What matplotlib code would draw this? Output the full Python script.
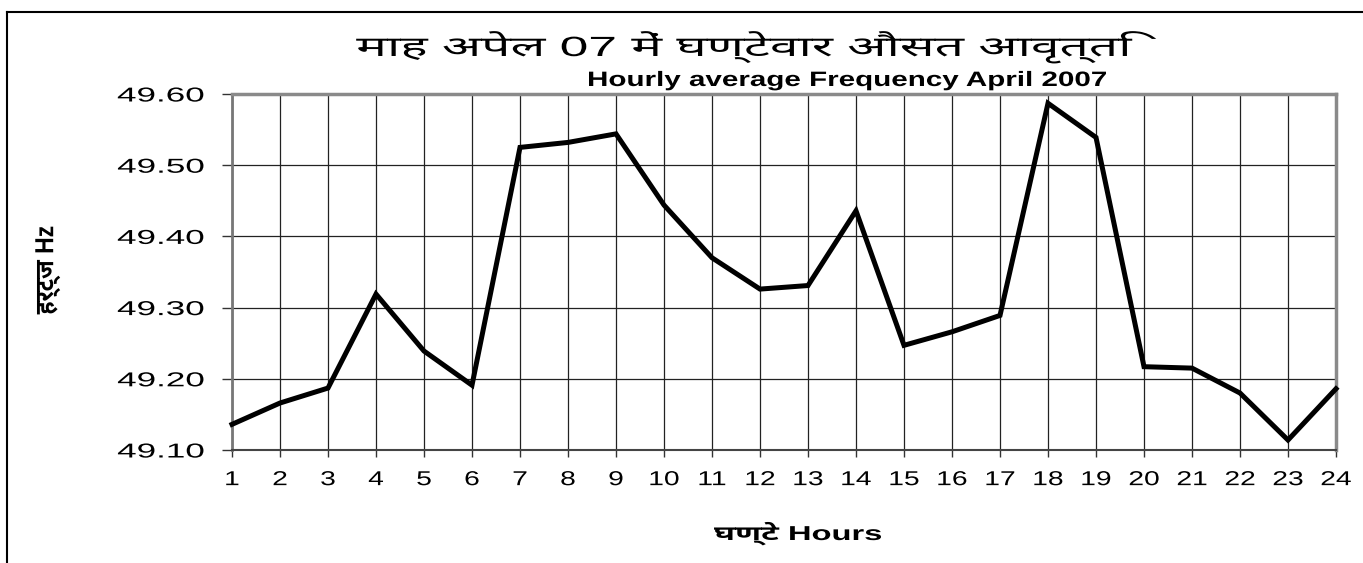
import matplotlib
matplotlib.use('Agg')
import matplotlib.pyplot as plt
from matplotlib.lines import Line2D
from matplotlib.patheffects import AbstractPathEffect
from matplotlib.transforms import Affine2D

# ── data ──────────────────────────────────────────────────────────────────
hours = list(range(1, 25))
freq = [49.136, 49.166, 49.187, 49.319, 49.239, 49.191, 49.525, 49.532,
        49.544, 49.444, 49.370, 49.326, 49.331, 49.436, 49.247, 49.266,
        49.289, 49.587, 49.539, 49.217, 49.215, 49.180, 49.114, 49.186]
yticks = [49.10, 49.20, 49.30, 49.40, 49.50, 49.60]

title_hi = 'माह अपेल 07 में घण्टेवार औसत आवृत्ति'
title_en = 'Hourly average Frequency April 2007'
xlabel = 'घण्टे Hours'
ylabel = 'हर्ट्ज Hz'

FONTS = ['Liberation Sans', 'Noto Sans Devanagari', 'Lohit Devanagari', 'DejaVu Sans']
FONTS_B = ['Liberation Sans', 'Noto Sans Devanagari UI', 'Noto Sans Devanagari', 'DejaVu Sans']
W, H = 1363, 563


# the source chart was stretched sideways; widen the glyphs the same way
class Stretch(AbstractPathEffect):
    def __init__(self, sx=1.0, sy=1.0, anchor='center', width=None):
        super().__init__()
        self.sx, self.sy, self.anchor, self.width = sx, sy, anchor, width

    def draw_path(self, renderer, gc, tpath, affine, rgbFace=None):
        ext = tpath.get_extents()
        sx = self.sx
        if self.width is not None:
            (x0, _), (x1, _) = affine.transform([[ext.x0, 0], [ext.x1, 0]])
            sx = self.width / abs(x1 - x0)
        if self.anchor == 'right':
            cx = ext.x1
        elif self.anchor == 'left':
            cx = ext.x0
        else:
            cx = (ext.x0 + ext.x1) / 2
        cy = (ext.y0 + ext.y1) / 2
        st = Affine2D().translate(-cx, -cy).scale(sx, self.sy).translate(cx, cy)
        renderer.draw_path(gc, tpath, st + affine, rgbFace)


plt.rcParams['font.family'] = FONTS

fig = plt.figure(figsize=(W / 100, H / 100), dpi=100)
ax = fig.add_axes([232 / W, 1 - 450 / H, (1336 - 232) / W, (450 - 94) / H])

ax.plot(hours, freq, color='black', lw=3.6, solid_joinstyle='miter', clip_on=False, zorder=3)

ax.set_xlim(1, 24)
ax.set_ylim(49.10, 49.60)
ax.set_xticks(hours, [str(h) for h in hours])
ax.set_yticks(yticks, [f'{v:.2f}' for v in yticks])
ax.grid(True, color='#222222', lw=0.9)
ax.set_axisbelow(True)

ax.tick_params(axis='y', length=7, width=1, color='#333333', pad=13, labelsize=14.5)
ax.tick_params(axis='x', length=5, width=1, color='#333333', pad=9.5, labelsize=14.5)
for lbl in ax.get_yticklabels():
    lbl.set_path_effects([Stretch(sx=1.74, anchor='right')])
for lbl in ax.get_xticklabels():
    lbl.set_path_effects([Stretch(sx=1.4)])

for side in ['top', 'right']:
    ax.spines[side].set_color('#8a8a8a')
    ax.spines[side].set_linewidth(2.5)
ax.spines['left'].set_color('#777777')
ax.spines['left'].set_linewidth(2)
ax.spines['bottom'].set_color('#444444')
ax.spines['bottom'].set_linewidth(1.5)

# ── texts ─────────────────────────────────────────────────────────────────
t = fig.text(750 / W, 1 - 56 / H, title_hi, ha='center', va='baseline', fontsize=20)
t.set_path_effects([Stretch(width=800)])

t = fig.text(848 / W, 1 - 86 / H, title_en, ha='center', va='baseline',
             fontsize=15, fontweight='bold', family=FONTS_B)
t.set_path_effects([Stretch(width=517)])

t = fig.text(798 / W, 1 - 540 / H, xlabel, ha='center', va='baseline',
             fontsize=14.5, fontweight='bold', family=FONTS_B)
t.set_path_effects([Stretch(width=167)])

t = fig.text(48 / W, 1 - 270 / H, ylabel, ha='center', va='center', rotation=90,
             fontsize=15, fontweight='bold', family=FONTS_B)
t.set_path_effects([Stretch(sx=1.1, sy=1.25)])

# ── frame lines round the chart ───────────────────────────────────────────
fig.add_artist(Line2D([7 / W, 1], [1 - 12 / H] * 2, transform=fig.transFigure, color='black', lw=1.5))
fig.add_artist(Line2D([7 / W] * 2, [0, 1 - 12 / H], transform=fig.transFigure, color='black', lw=1.5))

fig.savefig('out.png', dpi=100, facecolor='white')
